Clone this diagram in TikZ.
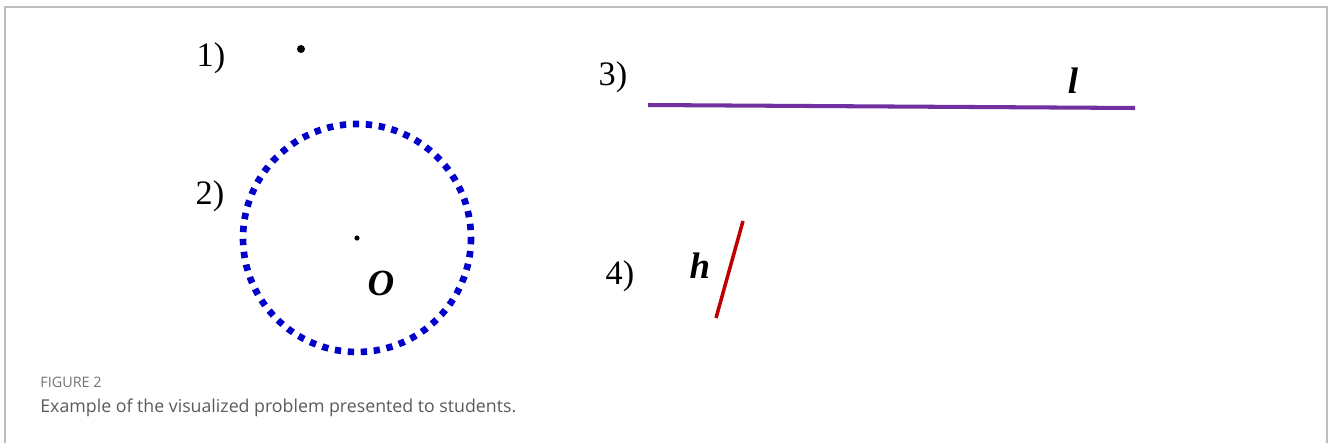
\documentclass[tikz,border=0pt]{standalone}
\usepackage{fontspec}
\setmainfont{Liberation Serif}
\newfontfamily\capfont{Open Sans}
\usepackage{tikz}
\definecolor{vpframe}{HTML}{BDBDBD}
\definecolor{vpblue}{HTML}{0000C8}
\definecolor{vppurple}{HTML}{7030A0}
\definecolor{vpred}{HTML}{C00000}
\definecolor{vpcap}{HTML}{5A5A5A}
\tikzset{
  numlbl/.style={font=\fontsize{19.5}{22}\selectfont},
  varlbl/.style={font=\fontsize{21}{23}\selectfont\bfseries\itshape}
}

\begin{document}
\begin{tikzpicture}[x=0.02cm,y=-0.02cm]
  \useasboundingbox (0,0) rectangle (1328,443);
  \draw[vpframe,line width=0.8pt] (5,443) -- (5,7) -- (1327,7) -- (1327,443);
  % item labels
  \foreach \n/\x/\y in {1/211/58,2/210/196,3/613/77,4/620/276}{%
    \node[numlbl] (lbl\n) at (\x,\y) {\n)};}
  % 1) point
  \fill (301,49) circle (4);
  % 2) circle with centre
  \coordinate (ctr) at (357,238);
  \draw[vpblue,line width=3.8pt,dash pattern=on 3.6pt off 3.8pt] (ctr) circle (114);
  \fill (ctr) circle (2.6);
  \node[varlbl] (nameO) at (381,283) {O};
  % 3) line l
  \coordinate (la) at (648,105);
  \coordinate (lb) at (1135,108);
  \draw[vppurple,line width=2.3pt] (la) -- (lb);
  \node[varlbl] (namel) at (1073,81) {l};
  % 4) segment h
  \coordinate (ha) at (743,221);
  \coordinate (hb) at (716,318);
  \draw[vpred,line width=2pt] (ha) -- (hb);
  \node[varlbl] (nameh) at (700,266) {h};
  % caption
  \node[anchor=west,inner sep=0pt,text=vpcap!85,font=\capfont\fontsize{8.2}{10}\selectfont]
    (capnum) at (40,382) {FIGURE 2};
  \node[anchor=west,inner sep=0pt,text=vpcap,font=\capfont\fontsize{10.1}{12}\selectfont]
    (captxt) at (40,408) {Example of the visualized problem presented to students.};
\end{tikzpicture}
\end{document}
